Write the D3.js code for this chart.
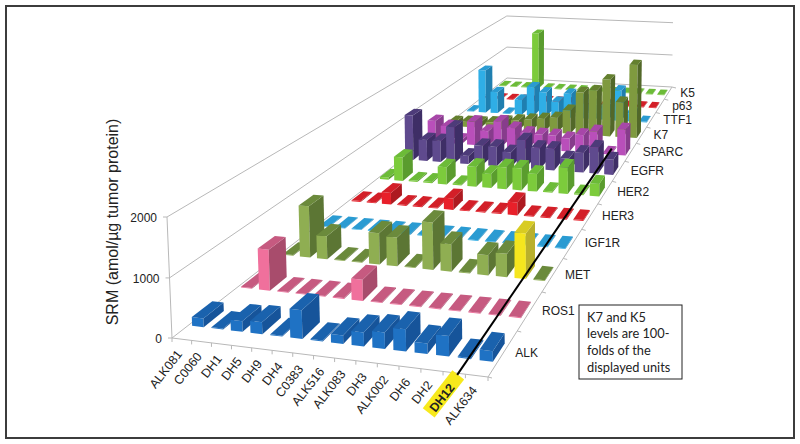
<!DOCTYPE html>
<html>
<head>
<meta charset="utf-8">
<script src="https://cdn.jsdelivr.net/npm/d3@7/dist/d3.min.js"></script>
<style>
html, body { margin: 0; padding: 0; background: #fff; }
text { font-family: "Liberation Sans", Arial, sans-serif; fill: #222; }
</style>
</head>
<body>
<svg id="chart" width="800" height="444"></svg>
<script>
// sample names along the front edge
const samples = ['ALK081','C0060','DH1','DH5','DH9','DH4','C0383','ALK516','ALK083','DH3','ALK002','DH6','DH2','DH12','ALK634'];
// proteins, front row first
const proteins = ['ALK','ROS1','MET','IGF1R','HER3','HER2','EGFR','SPARC','K7','TTF1','p63','K5'];
const zTicks = [0, 1000, 2000];

// values, one list per protein
const ALK   = [150, 15, 180, 200, 15, 480, 15, 140, 230, 270, 360, 170, 330, 20, 170];
const ROS1  = [15, 750, 15, 15, 15, 15, 380, 15, 15, 15, 15, 15, 15, 15, 15];
const MET   = [15, 1000, 450, 15, 15, 600, 550, 15, 900, 520, 15, 380, 440, 850, 15];
const IGF1R = [15, 15, 15, 15, 15, 15, 15, 15, 15, 15, 15, 15, 15, 15, 15];
const HER3  = [20, 20, 260, 20, 20, 20, 250, 20, 20, 20, 280, 20, 20, 20, 20];
const HER2  = [50, 550, 30, 30, 400, 30, 460, 320, 500, 500, 400, 30, 600, 30, 280];
const EGFR  = [1100, 520, 520, 880, 200, 470, 470, 360, 680, 520, 520, 310, 470, 620, 360];
const SPARC = [550, 440, 100, 600, 380, 650, 500, 400, 380, 380, 330, 440, 550, 30, 650];
const K7    = [120, 140, 150, 170, 220, 270, 310, 350, 400, 620, 1120, 1190, 1500, 920, 1920];
const TTF1  = [20, 1200, 600, 20, 420, 800, 670, 420, 670, 540, 400, 400, 840, 230, 20];
const p63   = [20, 20, 20, 20, 20, 20, 20, 20, 20, 20, 20, 20, 20, 20, 20];
const K5    = [20, 20, 20, 1700, 20, 20, 20, 20, 20, 20, 20, 20, 20, 20, 20];
const series = [ALK, ROS1, MET, IGF1R, HER3, HER2, EGFR, SPARC, K7, TTF1, p63, K5];

// colours per row: front, side, top
const blue = ['#1f72c4', '#16549a', '#1a62ad'];
const pink = ['#f0709c', '#a84c6c', '#c65a80'];
const olive = ['#8fae52', '#5c7634', '#6b8a3c'];
const darkOlive = ['#7f9a3f', '#526829', '#64802f'];
const sky = ['#2faee6', '#1f7fb0', '#2a9bd2'];
const red = ['#e8202a', '#ad1a20', '#d31f28'];
const green = ['#7ccb3c', '#5a9c2e', '#6cbb38'];
const purple = ['#5f4a8e', '#3e2e66', '#4d3b79'];
const magenta = ['#b94fba', '#873c8c', '#a747a8'];
const rowColors = [blue, pink, olive, sky, red, green, purple, magenta, darkOlive, sky, red, green];
const yellow = ['#f5e61e', '#b9b02c', '#d8cc22'];

const svg = d3.select('#chart');

// floor corners and wall tops on screen
const fl = [172, 338], fr = [488, 377], br = [672, 87], bl = [507, 78];
const flTop = [167, 217], blTop = [510, 16];

// square -> quad homography for the floor
function floorMatrix() {
    let dx1 = fr[0] - br[0], dx2 = bl[0] - br[0], sx = fl[0] - fr[0] + br[0] - bl[0];
    let dy1 = fr[1] - br[1], dy2 = bl[1] - br[1], sy = fl[1] - fr[1] + br[1] - bl[1];
    let den = dx1 * dy2 - dx2 * dy1;
    let g = (sx * dy2 - dx2 * sy) / den, h = (dx1 * sy - sx * dy1) / den;
    return {
        a: fr[0] - fl[0] + g * fr[0], b: bl[0] - fl[0] + h * bl[0],
        d: fr[1] - fl[1] + g * fr[1], e: bl[1] - fl[1] + h * bl[1], g, h
    };
}
const m = floorMatrix();
// the height column comes from the two wall tops
const c3 = (blTop[1] * (1 + m.h) - m.e - flTop[1]) / (flTop[1] - blTop[1]);
const a3 = flTop[0] * (1 + c3) - fl[0];
const b3 = flTop[1] * (1 + c3) - fl[1];

function project(u, v, z) {
    let w = m.g * u + m.h * v + 1 + c3 * z;
    return [(m.a * u + m.b * v + fl[0] + a3 * z) / w, (m.d * u + m.e * v + fl[1] + b3 * z) / w];
}

const xBand = d3.scaleBand().domain(samples).range([0, 1]).paddingInner(0.4).paddingOuter(0.2);
const yBand = d3.scaleBand().domain(proteins).range([0, 1]).paddingInner(0.6).paddingOuter(0.3);
const zScale = d3.scaleLinear().domain([0, 2000]).range([0, 1]);
const xStep = d3.scaleLinear().domain([0, samples.length]).range([0, 1]);
const yStep = d3.scaleLinear().domain([0, proteins.length]).range([0, 1]);

const pts = list => list.map(p => project(p[0], p[1], p[2]).map(n => n.toFixed(1)).join(',')).join(' ');
const gridColor = '#b8b8b8';

// frame
svg.append('rect').attr('x', 6).attr('y', 6).attr('width', 788).attr('height', 432)
    .attr('fill', 'none').attr('stroke', '#3c3c3c').attr('stroke-width', 2);

// walls
svg.append('g').selectAll('polyline').data(zTicks).join('polyline')
    .attr('points', t => pts([[0, 0, zScale(t)], [0, 1, zScale(t)], [1, 1, zScale(t)]]))
    .attr('fill', 'none').attr('stroke', gridColor);
svg.append('polyline').attr('points', pts([[0, 0, zScale(2000)], [0, 0, 0], [1, 0, 0], [1, 1, 0]]))
    .attr('fill', 'none').attr('stroke', gridColor);

// ticks
svg.append('g').selectAll('line').data(d3.range(samples.length + 1)).join('line')
    .each(function(i) {
        let p = project(xStep(i), 0, 0);
        d3.select(this).attr('x1', p[0]).attr('y1', p[1]).attr('x2', p[0]).attr('y2', p[1] + 4);
    }).attr('stroke', gridColor);
svg.append('g').selectAll('line').data(d3.range(proteins.length + 1)).join('line')
    .each(function(i) {
        let p = project(1, yStep(i), 0);
        d3.select(this).attr('x1', p[0]).attr('y1', p[1]).attr('x2', p[0] + 4).attr('y2', p[1] + 1);
    }).attr('stroke', gridColor);
svg.append('g').selectAll('line').data(zTicks).join('line')
    .each(function(t) {
        let p = project(0, 0, zScale(t));
        d3.select(this).attr('x1', p[0] - 4).attr('y1', p[1]).attr('x2', p[0]).attr('y2', p[1]);
    }).attr('stroke', gridColor);

// bars, back row first and left to right
const bars = [];
d3.range(proteins.length - 1, -1, -1).forEach(r => {
    samples.forEach((s, i) => {
        let highlight = proteins[r] === 'MET' && s === 'DH12';
        bars.push({ protein: proteins[r], sample: s, value: series[r][i], colors: highlight ? yellow : rowColors[r] });
    });
});

const barG = svg.append('g').selectAll('g').data(bars).join('g');
const faces = d => {
    let u0 = xBand(d.sample), u1 = u0 + xBand.bandwidth();
    let v0 = yBand(d.protein), v1 = v0 + yBand.bandwidth();
    let z = zScale(d.value);
    return {
        front: [[u0, v0, 0], [u1, v0, 0], [u1, v0, z], [u0, v0, z]],
        side: [[u1, v0, 0], [u1, v1, 0], [u1, v1, z], [u1, v0, z]],
        top: [[u0, v0, z], [u1, v0, z], [u1, v1, z], [u0, v1, z]]
    };
};
barG.append('polygon').attr('points', d => pts(faces(d).front)).attr('fill', d => d.colors[0]);
barG.append('polygon').attr('points', d => pts(faces(d).side)).attr('fill', d => d.colors[1]);
barG.append('polygon').attr('points', d => pts(faces(d).top)).attr('fill', d => d.colors[2]);

// z axis labels
svg.append('g').selectAll('text').data(zTicks).join('text')
    .attr('x', t => project(0, 0, zScale(t))[0] - 10)
    .attr('y', t => project(0, 0, zScale(t))[1] + 5)
    .attr('text-anchor', 'end').attr('font-size', 12).text(t => t);

svg.append('text').attr('transform', 'translate(118,222) rotate(-90)')
    .attr('text-anchor', 'middle').attr('font-size', 16).text('SRM (amol/\u00b5g tumor protein)');

// sample labels
const xLabel = svg.append('g').selectAll('g').data(samples).join('g')
    .attr('transform', s => {
        let p = project(xBand(s) + xBand.bandwidth() / 2, 0, 0);
        return `translate(${p[0] + 1},${p[1] + 15}) rotate(-52)`;
    });
xLabel.filter(s => s === 'DH12').append('rect')
    .attr('x', -36).attr('y', -13).attr('width', 48).attr('height', 15).attr('fill', '#f7e91c');
xLabel.append('text').attr('text-anchor', 'end').attr('font-size', 12.5)
    .attr('font-weight', s => s === 'DH12' ? 'bold' : 'normal').text(s => s);

// row labels
svg.append('g').selectAll('text').data(proteins).join('text')
    .attr('x', d => project(1, yBand(d) + yBand.bandwidth() / 2, 0)[0] + 12)
    .attr('y', d => project(1, yBand(d) + yBand.bandwidth() / 2, 0)[1] + 4)
    .attr('font-size', 12).text(d => d);

// line from DH12 up to the magenta row
const lineStart = project(xBand('DH12') + xBand.bandwidth() / 2, 0, 0);
const lineEnd = project(xBand('DH12') + xBand.bandwidth() / 2, yBand('SPARC') + yBand.bandwidth() / 2, 0);
svg.append('line').attr('x1', lineStart[0] + 3).attr('y1', lineStart[1] + 2)
    .attr('x2', lineEnd[0] + 2).attr('y2', lineEnd[1] - 2)
    .attr('stroke', '#000').attr('stroke-width', 2);

// note box
svg.append('rect').attr('x', 579).attr('y', 305).attr('width', 103).attr('height', 74)
    .attr('fill', '#fff').attr('stroke', '#222');
const note = ['K7 and K5', 'levels are 100-', 'folds of the', 'displayed units'];
svg.append('g').selectAll('text').data(note).join('text')
    .attr('x', 587).attr('y', (d, i) => 321.5 + i * 16.7)
    .attr('font-size', 12.8).style('font-family', 'Lato, sans-serif').text(d => d);
</script>
</body>
</html>
